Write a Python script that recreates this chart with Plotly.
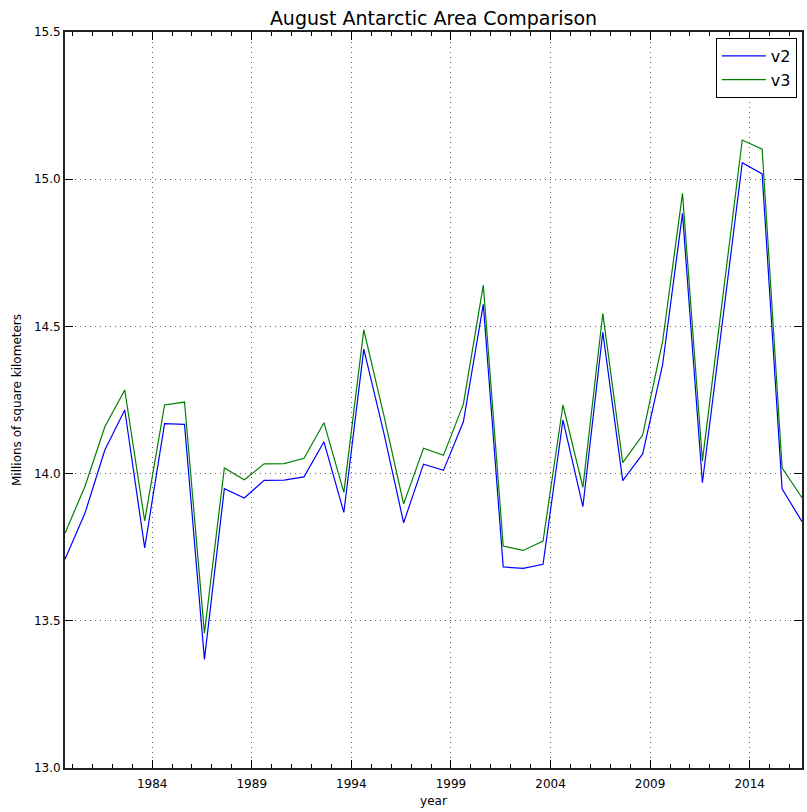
import plotly.graph_objects as go

years = list(range(1979, 2017))
# mid-August position inside each year
x_pos = [y + 0.625 for y in years]

v2 = [13.709, 13.865, 14.080, 14.216, 13.748, 14.170, 14.167, 13.369, 13.949, 13.917,
      13.977, 13.978, 13.989, 14.108, 13.868, 14.423, 14.140, 13.833, 14.032, 14.011,
      14.176, 14.575, 13.683, 13.678, 13.692, 14.182, 13.888, 14.480, 13.976, 14.067,
      14.369, 14.884, 13.969, 14.505, 15.056, 15.018, 13.948, 13.837]
v3 = [13.797, 13.956, 14.159, 14.284, 13.839, 14.233, 14.243, 13.458, 14.019, 13.979,
      14.033, 14.034, 14.052, 14.173, 13.936, 14.488, 14.200, 13.897, 14.086, 14.062,
      14.236, 14.640, 13.754, 13.739, 13.771, 14.233, 13.953, 14.544, 14.037, 14.131,
      14.448, 14.952, 14.043, 14.585, 15.133, 15.102, 14.020, 13.918]

tick_years = [1984, 1989, 1994, 1999, 2004, 2009, 2014]
y_ticks = [13.0, 13.5, 14.0, 14.5, 15.0, 15.5]

fig = go.Figure()
fig.add_trace(go.Scatter(x=x_pos, y=v2, mode='lines', name='v2',
                         line=dict(color='#0000ff', width=1.2)))
fig.add_trace(go.Scatter(x=x_pos, y=v3, mode='lines', name='v3',
                         line=dict(color='#008000', width=1.2)))

axis_common = dict(showline=True, linecolor='#222222', linewidth=2, mirror='allticks',
                   ticks='inside', ticklen=8, tickcolor='black', tickwidth=1,
                   showgrid=True, gridcolor='#666666', griddash='1px,4px', gridwidth=1,
                   zeroline=False, automargin=False,
                   tickfont=dict(size=12, color='black'))

fig.update_xaxes(range=[x_pos[0], x_pos[-1]], tickvals=tick_years,
                 ticktext=[str(t) for t in tick_years], ticklabelstandoff=4,
                 minor=dict(ticks='inside', ticklen=4, dtick=1, tick0=1984,
                            tickcolor='black', showgrid=False),
                 title=dict(text='year', font=dict(size=12, color='black'), standoff=6),
                 **axis_common)
fig.update_yaxes(range=[13.0, 15.5], tickvals=y_ticks, tickformat='.1f',
                 title=dict(text='Millions of square kilometers', font=dict(size=12, color='black'),
                            standoff=10),
                 **axis_common)

fig.update_layout(
    width=807, height=812,
    margin=dict(l=65, r=5, t=32, b=44),
    paper_bgcolor='white', plot_bgcolor='white',
    font=dict(family='DejaVu Sans', color='black'),
    title=dict(text='August Antarctic Area Comparison', x=0.5, xref='paper',
               y=1 - 18 / 812, yanchor='middle', font=dict(size=19, color='black')),
    legend=dict(x=0.993, y=0.992, xanchor='right', yanchor='top',
                bordercolor='black', borderwidth=1, bgcolor='white',
                itemwidth=44, tracegroupgap=4,
                font=dict(size=16, color='black')),
)

# drop the default page margin so the figure sits at the window origin
fig.write_html("out.html", config={'displayModeBar': False},
               post_script="document.body.style.margin='0';")
